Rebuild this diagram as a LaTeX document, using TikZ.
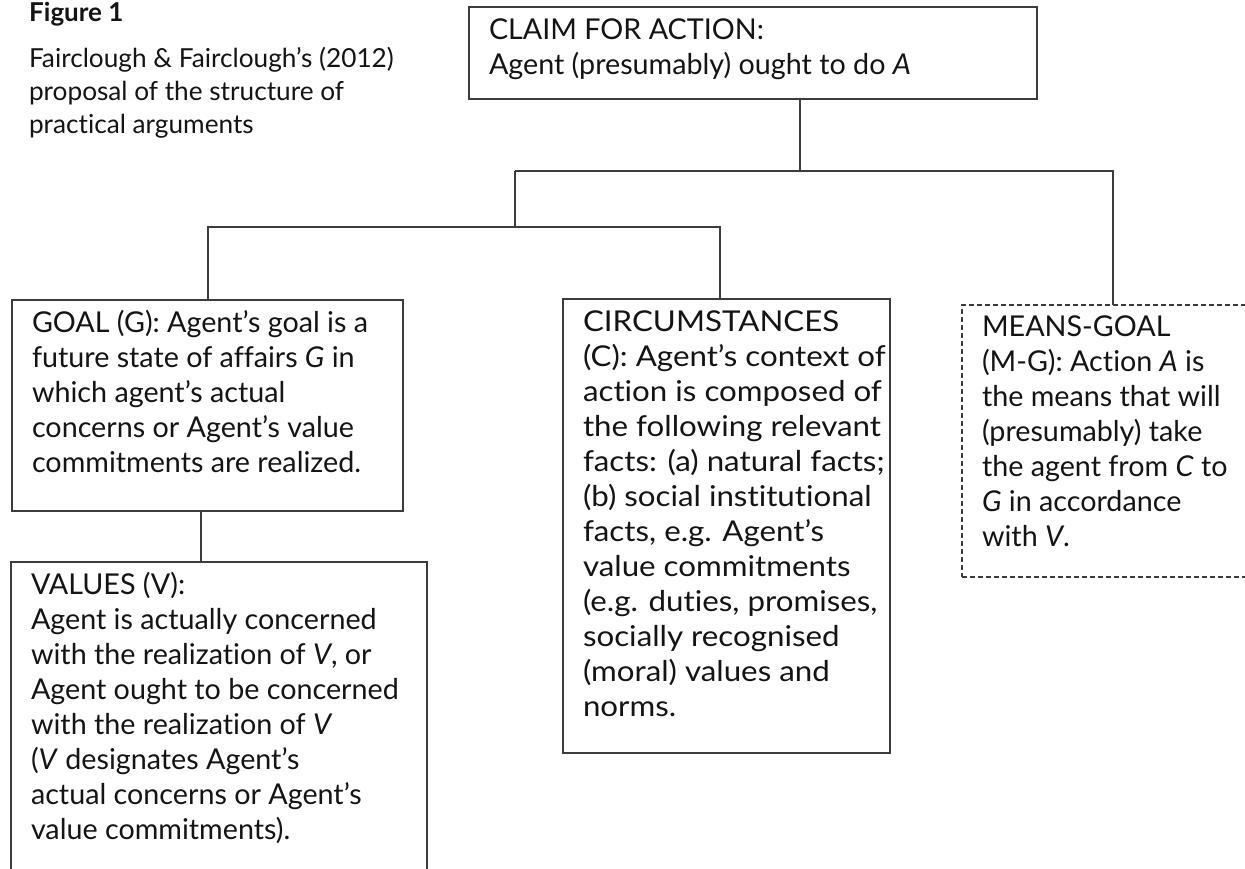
\documentclass[tikz,border=0pt]{standalone}
\usepackage{fontspec}
\setmainfont{Lato}[Ligatures={NoCommon}]
\newfontfamily\circfam{Lato}[FakeStretch=1.09, Ligatures={NoCommon}]
\newcommand\bxfont{\fontsize{28.7}{35}\selectfont}
\newcommand\circfont{\circfam\fontsize{28.7}{35}\selectfont}
\newcommand\capfont{\fontsize{26.2}{33}\selectfont}
\newcommand\figfont{\fontsize{26}{30}\selectfont\bfseries}
\newcommand\tstrut{\rule{0pt}{26pt}}
\begin{document}
\begin{tikzpicture}[x=1pt,y=-1pt,
  ln/.style={draw={rgb,255:red,60;green,60;blue,60}, line width=1.3pt},
  box/.style={ln, rectangle, inner sep=0pt, outer sep=0pt, anchor=north west},
  dbox/.style={box, dash pattern=on 5pt off 3pt},
  txt/.style={inner sep=0pt, outer sep=0pt, anchor=north west, align=left, font=\bxfont, text={rgb,255:red,20;green,20;blue,20}, execute at begin node=\tstrut}
]
\useasboundingbox (0,0) rectangle (1245,869);
\clip (0,0) rectangle (1245,869);

% caption
\node[inner sep=0pt, anchor=base west, font=\figfont, text={rgb,255:red,20;green,20;blue,20}] (fig) at (29,21.7) {Figure 1};
\node[txt, font=\capfont] (cap) at (29,46.7) {Fairclough \& Fairclough’s (2012)\\proposal of the structure of\\practical arguments};

% boxes
\node[box, minimum width=568, minimum height=92] (claim) at (469,7) {};
\node[box, minimum width=391, minimum height=211] (goal) at (12,300) {};
\node[box, minimum width=416, minimum height=330] (values) at (11,562) {};
\node[box, minimum width=327, minimum height=454] (circ) at (563,299) {};
\node[dbox, minimum width=310, minimum height=272] (mg) at (962,305) {};

% texts
\node[txt] (claimt) at (489,19) {CLAIM FOR ACTION:\\Agent (presumably) ought to do \textit{A}};
\node[txt] (goalt) at (32,310.7) {GOAL (G): Agent’s goal is a\\future state of affairs \textit{G} in\\which agent’s actual\\concerns or Agent’s value\\commitments are realized.};
\node[txt] (valuest) at (31,572) {VALUES (V):\\Agent is actually concerned\\with the realization of \textit{V}, or\\Agent ought to be concerned\\with the realization of \textit{V}\\(\textit{V} designates Agent’s\\actual concerns or Agent’s\\value commitments).};
\node[txt, font=\circfont] (circt) at (583,311) {CIRCUMSTANCES\\(C): Agent’s context of\\action is composed of\\the following relevant\\facts: (a) natural facts;\\(b) social institutional\\facts, e.g. Agent’s\\value commitments\\(e.g. duties, promises,\\socially recognised\\(moral) values and\\norms.};
\node[txt] (mgt) at (982,316) {MEANS-GOAL\\(M-G): Action \textit{A} is\\the means that will\\(presumably) take\\the agent from \textit{C} to\\\textit{G} in accordance\\with \textit{V}.};

% junctions
\coordinate (j1) at (800,171);
\coordinate (j2) at (515,171);
\coordinate (j3) at (1113,171);
\coordinate (j4) at (515,227);
\coordinate (j5) at (208,227);
\coordinate (j6) at (720,227);
\coordinate (j7) at (201,540);

% connectors
\draw[ln] (j1 |- claim.south) -- (j1);
\draw[ln] (j2) -- (j3) -- (j3 |- mg.north);
\draw[ln] (j2) -- (j4);
\draw[ln] (j5 |- goal.north) -- (j5) -- (j6) -- (j6 |- circ.north);
\draw[ln] (j7 |- goal.south) -- (j7 |- values.north);
\end{tikzpicture}
\end{document}
